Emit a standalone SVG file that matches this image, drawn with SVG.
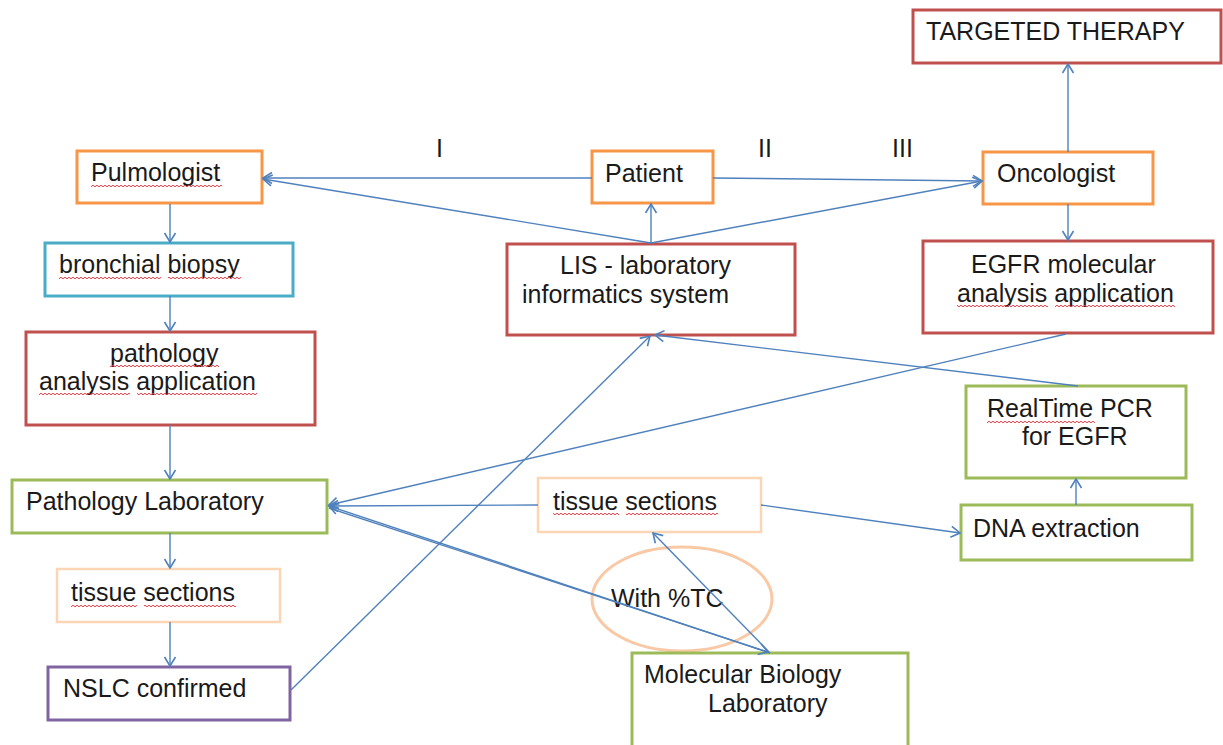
<svg xmlns="http://www.w3.org/2000/svg" width="1223" height="745" viewBox="0 0 1223 745">
<style>
.box{fill:#fff;stroke-width:3}
.orange{stroke:#f79646}
.red{stroke:#c0504d}
.blue{stroke:#4bacc6}
.green{stroke:#9bbb59}
.purple{stroke:#8064a2}
.peach{stroke:#fcd5b4;stroke-width:2.5}
text{font-family:"Liberation Sans",Arial,sans-serif;font-size:25px;fill:#1a1a1a}
.conn line{stroke:#4f81bd;stroke-width:1.4;fill:none}
.arr{marker-end:url(#ah)}
.sq{fill:url(#squig)}
</style>
<defs>
<marker id="ah" markerUnits="userSpaceOnUse" markerWidth="14" markerHeight="14" viewBox="-12 -7 14 14" refX="0" refY="0" orient="auto">
<path d="M-9,-5.5 L0,0 L-9,5.5" fill="none" stroke="#4f81bd" stroke-width="1.6"/>
</marker>
<pattern id="squig" patternUnits="userSpaceOnUse" width="4" height="4">
<path d="M0 2 Q1 0.5 2 2 T4 2" fill="none" stroke="#e8383d" stroke-width="1"/>
</pattern>
</defs>

<g id="targeted-therapy">
<rect class="box red" x="913" y="10" width="308" height="53"/>
<text x="926" y="40">TARGETED THERAPY</text>
</g>
<g id="pulmologist">
<rect class="box orange" x="77" y="151" width="185" height="52"/>
<text x="91" y="181">Pulmologist</text>
<rect class="sq" x="91" y="183" width="131" height="4"/>
</g>
<g id="patient">
<rect class="box orange" x="592" y="151" width="121" height="52"/>
<text x="605" y="182">Patient</text>
</g>
<g id="oncologist">
<rect class="box orange" x="983" y="152" width="170" height="52"/>
<text x="997" y="182">Oncologist</text>
</g>
<g id="bronchial-biopsy">
<rect class="box blue" x="45" y="243" width="248" height="53"/>
<text x="59" y="273">bronchial biopsy</text>
<rect class="sq" x="59" y="275" width="102" height="4"/>
<rect class="sq" x="168" y="275" width="73" height="4"/>
</g>
<g id="lis">
<rect class="box red" x="507" y="244" width="288" height="91"/>
<text x="560" y="274">LIS - laboratory</text>
<text x="522" y="303">informatics system</text>
</g>
<g id="egfr-app">
<rect class="box red" x="923" y="241" width="290" height="92"/>
<text x="971" y="273">EGFR molecular</text>
<text x="957" y="302">analysis application</text>
<rect class="sq" x="957" y="304" width="91" height="4"/>
<rect class="sq" x="1055" y="304" width="120" height="4"/>
</g>
<g id="pathology-app">
<rect class="box red" x="26" y="332" width="289" height="93"/>
<text x="110" y="362">pathology</text>
<text x="39" y="390">analysis application</text>
<rect class="sq" x="110" y="364" width="109" height="4"/>
<rect class="sq" x="39" y="392" width="91" height="4"/>
<rect class="sq" x="137" y="392" width="120" height="4"/>
</g>
<g id="realtime-pcr">
<rect class="box green" x="966" y="386" width="220" height="92"/>
<text x="987" y="417">RealTime PCR</text>
<text x="1022" y="445">for EGFR</text>
<rect class="sq" x="987" y="419" width="108" height="4"/>
</g>
<g id="pathology-lab">
<rect class="box green" x="12" y="480" width="315" height="53"/>
<text x="26" y="510">Pathology Laboratory</text>
</g>
<g id="tissue-sections-mid">
<rect class="box peach" x="538" y="478" width="223" height="54"/>
<text x="553" y="510">tissue sections</text>
<rect class="sq" x="553" y="512" width="66" height="4"/>
<rect class="sq" x="626" y="512" width="92" height="4"/>
</g>
<g id="dna-extraction">
<rect class="box green" x="961" y="505" width="231" height="55"/>
<text x="973" y="537">DNA extraction</text>
</g>
<g id="tissue-sections-left">
<rect class="box peach" x="57" y="569" width="223" height="53"/>
<text x="71" y="601">tissue sections</text>
<rect class="sq" x="71" y="603" width="66" height="4"/>
<rect class="sq" x="144" y="603" width="92" height="4"/>
</g>
<g id="with-tc">
<ellipse cx="682" cy="599" rx="90" ry="52" fill="none" stroke="#f9c9a6" stroke-width="3"/>
<text x="611" y="607">With %TC</text>
</g>
<g id="nslc-confirmed">
<rect class="box purple" x="48" y="667" width="242" height="53"/>
<text x="63" y="697">NSLC confirmed</text>
</g>
<g id="molecular-biology-lab">
<rect class="box green" x="632" y="653" width="276" height="100"/>
<text x="644" y="683">Molecular Biology</text>
<text x="708" y="712">Laboratory</text>
</g>

<g id="labels">
<text x="436" y="157">I</text>
<text x="758" y="157">II</text>
<text x="892" y="157">III</text>
</g>

<g class="conn" id="connectors">
<line class="arr" x1="592" y1="178" x2="263" y2="178"/>
<line class="arr" x1="651" y1="243" x2="263" y2="179"/>
<line class="arr" x1="651" y1="243" x2="651" y2="204"/>
<line class="arr" x1="651" y1="243" x2="982" y2="181"/>
<line class="arr" x1="713" y1="178" x2="982" y2="181"/>
<line class="arr" x1="1068" y1="152" x2="1068" y2="64"/>
<line class="arr" x1="1068" y1="204" x2="1068" y2="240"/>
<line class="arr" x1="170" y1="204" x2="170" y2="242"/>
<line class="arr" x1="170" y1="296" x2="170" y2="331"/>
<line class="arr" x1="170" y1="425" x2="170" y2="479"/>
<line class="arr" x1="170" y1="533" x2="170" y2="568"/>
<line class="arr" x1="170" y1="622" x2="170" y2="666"/>
<line class="arr" x1="291" y1="690" x2="650" y2="336"/>
<line class="arr" x1="1078" y1="386" x2="655" y2="335"/>
<line class="arr" x1="1066" y1="334" x2="329" y2="505"/>
<line class="arr" x1="538" y1="505" x2="329" y2="506"/>
<line class="arr" x1="770" y1="653" x2="329" y2="506"/>
<line class="arr" x1="329" y1="508" x2="768" y2="652"/>
<line class="arr" x1="770" y1="653" x2="653" y2="533"/>
<line class="arr" x1="761" y1="505" x2="960" y2="533"/>
<line class="arr" x1="1076" y1="505" x2="1076" y2="479"/>
</g>
</svg>
